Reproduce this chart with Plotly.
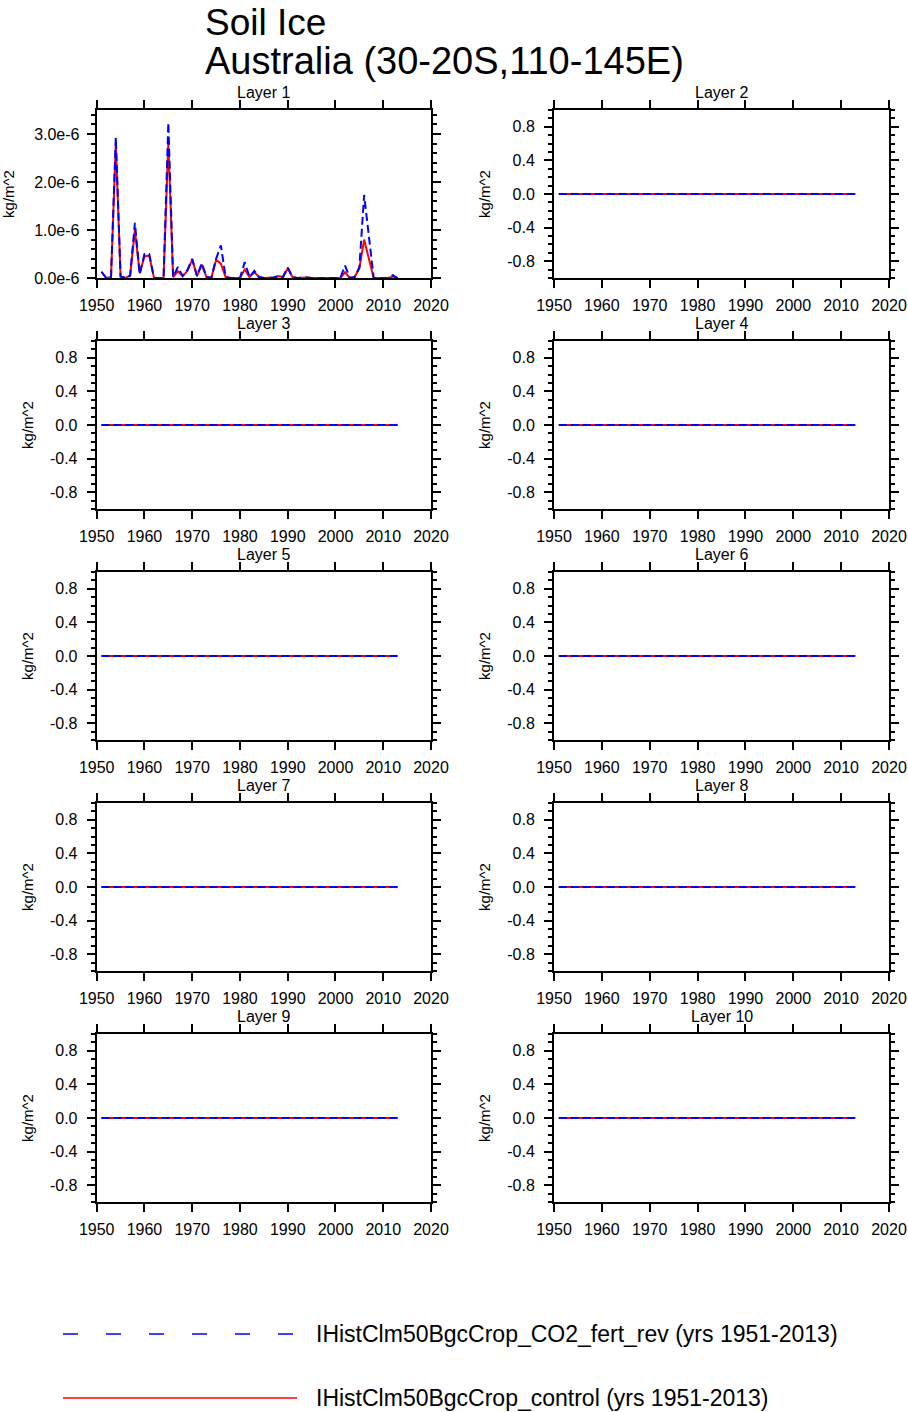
import plotly.graph_objects as go

# ---------------- data ----------------
years = list(range(1951, 2014))

# Layer 1 soil ice, in units of 1e-6 kg/m^2
co2_fert_layer1 = [
    0.13, 0.00, 0.02, 2.93, 0.03, 0.00, 0.05, 1.15, 0.08, 0.50,
    0.50, 0.00, 0.00, 0.00, 3.24, 0.02, 0.23, 0.04, 0.17, 0.40,
    0.04, 0.31, 0.02, 0.00, 0.40, 0.68, 0.02, 0.00, 0.00, 0.00,
    0.33, 0.02, 0.15, 0.02, 0.00, 0.00, 0.01, 0.03, 0.02, 0.22,
    0.02, 0.00, 0.01, 0.01, 0.00, 0.00, 0.00, 0.00, 0.01, 0.00,
    0.00, 0.26, 0.00, 0.02, 0.22, 1.73, 0.90, 0.00, 0.00, 0.00,
    0.00, 0.06, 0.00,
]
control_layer1 = [
    0.13, 0.00, 0.02, 2.80, 0.03, 0.00, 0.05, 1.00, 0.10, 0.45,
    0.47, 0.00, 0.00, 0.00, 2.82, 0.02, 0.14, 0.04, 0.15, 0.38,
    0.04, 0.28, 0.02, 0.00, 0.38, 0.30, 0.02, 0.00, 0.00, 0.00,
    0.18, 0.02, 0.12, 0.02, 0.00, 0.00, 0.01, 0.04, 0.02, 0.20,
    0.02, 0.00, 0.01, 0.01, 0.00, 0.00, 0.00, 0.00, 0.01, 0.00,
    0.00, 0.12, 0.00, 0.02, 0.20, 0.80, 0.40, 0.00, 0.00, 0.00,
    0.00, 0.03, 0.00,
]
# Layers 2-10: both runs are zero in every year
zero_series = [
    0, 0, 0, 0, 0, 0, 0, 0, 0, 0, 0, 0, 0, 0, 0, 0, 0, 0, 0, 0, 0,
    0, 0, 0, 0, 0, 0, 0, 0, 0, 0, 0, 0, 0, 0, 0, 0, 0, 0, 0, 0, 0,
    0, 0, 0, 0, 0, 0, 0, 0, 0, 0, 0, 0, 0, 0, 0, 0, 0, 0, 0, 0, 0,
]
layer_names = ["Layer %d" % i for i in range(1, 11)]
run_names = [
    "IHistClm50BgcCrop_CO2_fert_rev (yrs 1951-2013)",
    "IHistClm50BgcCrop_control (yrs 1951-2013)",
]
x_ticks = [1950, 1960, 1970, 1980, 1990, 2000, 2010, 2020]
y_ticks_l1 = [0.0, 1.0, 2.0, 3.0]          # 1e-6 kg/m^2
y_ticks = [-0.8, -0.4, 0.0, 0.4, 0.8]
y_unit = "kg/m^2"

# ---------------- layout helpers ----------------
W, H = 908, 1412
FONT = "Liberation Sans, Arial, Helvetica, sans-serif"
col_x = [(96.7, 431.0), (554.0, 889.0)]
row_top0, row_h, row_step = 110.0, 168.0, 231.0


def px(x):
    return x / W


def py(y):
    return 1 - y / H


fig = go.Figure()
annotations = []
shapes = []

for i in range(10):
    r, c = divmod(i, 2)
    x0, x1 = col_x[c]
    top = row_top0 + r * row_step
    bot = top + row_h
    n = i + 1
    xa = "x" if n == 1 else "x%d" % n
    ya = "y" if n == 1 else "y%d" % n

    if i == 0:
        blue = [v * 1e-6 for v in co2_fert_layer1]
        red = [v * 1e-6 for v in control_layer1]
    else:
        blue = zero_series
        red = zero_series

    fig.add_trace(go.Scatter(x=years, y=red, mode="lines", xaxis=xa, yaxis=ya,
                             line=dict(color="red", width=2), name=run_names[1],
                             showlegend=False))
    fig.add_trace(go.Scatter(x=years, y=blue, mode="lines", xaxis=xa, yaxis=ya,
                             line=dict(color="blue", width=2, dash="8px,4px"),
                             name=run_names[0], showlegend=False))

    common = dict(showline=True, linewidth=2, linecolor="black", mirror="allticks",
                  ticks="outside", tickwidth=1.5, tickcolor="black", showgrid=False,
                  zeroline=False, automargin=False,
                  tickfont=dict(family=FONT, size=16, color="black"))
    xkey = "xaxis" if n == 1 else "xaxis%d" % n
    ykey = "yaxis" if n == 1 else "yaxis%d" % n
    fig.layout[xkey] = dict(domain=[px(x0), px(x1)], anchor=ya, range=[1950, 2020],
                            tickmode="array", tickvals=x_ticks,
                            ticktext=[str(t) for t in x_ticks], ticklen=8,
                            ticklabelstandoff=4, **common)
    if i == 0:
        fig.layout[ykey] = dict(domain=[py(bot), py(top)], anchor=xa, range=[0, 3.5e-6],
                                tickmode="array", tickvals=[v * 1e-6 for v in y_ticks_l1],
                                ticktext=["%.1fe-6" % v for v in y_ticks_l1], ticklen=8,
                                minor=dict(tick0=0, dtick=0.2e-6, ticklen=4, tickwidth=1.5,
                                           ticks="outside", tickcolor="black"),
                                ticklabelstandoff=4,
                                title=dict(text=y_unit, standoff=16,
                                           font=dict(family=FONT, size=15, color="black")),
                                **common)
    else:
        fig.layout[ykey] = dict(domain=[py(bot), py(top)], anchor=xa, range=[-1, 1],
                                tickmode="array", tickvals=y_ticks,
                                ticktext=["%.1f" % v for v in y_ticks], ticklen=8,
                                minor=dict(tick0=0, dtick=0.1, ticklen=4, tickwidth=1.5,
                                           ticks="outside", tickcolor="black"),
                                ticklabelstandoff=6,
                                title=dict(text=y_unit, standoff=13,
                                           font=dict(family=FONT, size=15, color="black")),
                                **common)

    annotations.append(dict(text=layer_names[i], x=px((x0 + x1) / 2), y=py(top - 18),
                            xref="paper", yref="paper", xanchor="center", yanchor="middle",
                            showarrow=False, font=dict(family=FONT, size=16, color="black")))

# Title
annotations.append(dict(text="Soil Ice", x=px(203), y=py(0), xref="paper", yref="paper",
                        xanchor="left", yanchor="top", showarrow=False,
                        font=dict(family=FONT, size=37, color="black")))
annotations.append(dict(text="Australia (30-20S,110-145E)", x=px(203), y=py(61),
                        xref="paper", yref="paper", xanchor="left", yanchor="middle",
                        showarrow=False, font=dict(family=FONT, size=38, color="black")))

# Legend (drawn by hand so the sample lines can be long)
leg_rows = [(1334, "#0000ff", "15px,28px"), (1398, "#ff0000", "solid")]
for (ly, colr, dash), label in zip(leg_rows, run_names):
    shapes.append(dict(type="line", xref="paper", yref="paper", x0=px(63), x1=px(297),
                       y0=py(ly), y1=py(ly), line=dict(color=colr, width=1.5, dash=dash)))
    annotations.append(dict(text=label, x=px(314), y=py(ly), xref="paper", yref="paper",
                            xanchor="left", yanchor="middle", showarrow=False,
                            font=dict(family=FONT, size=23, color="black")))

fig.update_layout(width=W, height=H, margin=dict(l=0, r=0, t=0, b=0),
                  paper_bgcolor="white", plot_bgcolor="white",
                  annotations=annotations, shapes=shapes, showlegend=False,
                  font=dict(family=FONT, color="black"))

fig.write_html("out.html", config={"displayModeBar": False},
               post_script="document.body.style.margin='0';"
                           "document.body.style.overflow='hidden';")
